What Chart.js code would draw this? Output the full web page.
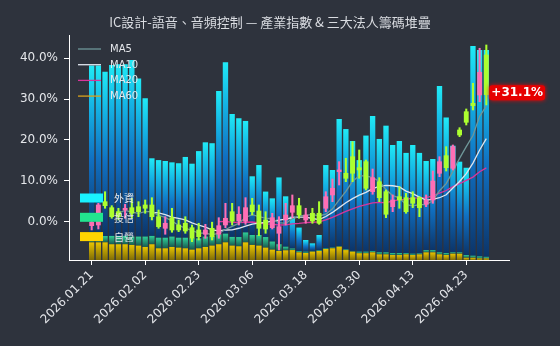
<!DOCTYPE html>
<html>
<head>
<meta charset="utf-8">
<script src="https://cdn.jsdelivr.net/npm/chart.js@4.4.1/dist/chart.umd.min.js"></script>
<style>
  html, body { margin: 0; padding: 0; background: #2e333d; }
  canvas { display: block; }
</style>
</head>
<body>
<canvas id="chart" width="560" height="346"></canvas>
<script>
// Trading days
const dates = [
  '2026.01.21','2026.01.22','2026.01.23','2026.01.26','2026.01.27','2026.01.28','2026.01.29','2026.01.30',
  '2026.02.02','2026.02.03','2026.02.04','2026.02.05','2026.02.06','2026.02.09','2026.02.10','2026.02.11',
  '2026.02.23','2026.02.24','2026.02.25','2026.02.26','2026.03.02','2026.03.03','2026.03.04','2026.03.05',
  '2026.03.06','2026.03.09','2026.03.10','2026.03.11','2026.03.12','2026.03.13','2026.03.16','2026.03.17',
  '2026.03.18','2026.03.19','2026.03.20','2026.03.23','2026.03.24','2026.03.25','2026.03.26','2026.03.27',
  '2026.03.30','2026.03.31','2026.04.01','2026.04.02','2026.04.07','2026.04.08','2026.04.09','2026.04.10',
  '2026.04.13','2026.04.14','2026.04.15','2026.04.16','2026.04.17','2026.04.20','2026.04.21','2026.04.22',
  '2026.04.23','2026.04.24','2026.04.27','2026.04.28'
];

// Industry index, cumulative % change (open / high / low / close)
const openPct = [-0.98,-0.81,4.90,3.43,2.45,2.86,3.43,3.67,4.09,4.09,1.22,-1.62,0.98,-0.81,-0.39,-1.47,-2.03,-3.08,-1.62,-3.08,
  -0.81,2.45,0.17,0.00,4.09,2.62,0.42,-1.47,-2.84,0.42,2.30,3.92,0.42,2.06,2.06,3.28,6.54,12.24,11.85,15.91,
  13.22,14.69,7.34,9.79,7.34,3.67,6.12,5.88,5.88,5.88,4.26,5.31,11.85,16.16,13.07,22.45,26.93,28.98,31.02,40.81];
const highPct = [1.64,4.50,7.34,3.92,3.28,4.26,5.73,4.90,5.31,5.88,2.86,1.22,3.28,0.42,1.22,-0.81,-0.39,-0.64,0.00,0.98,
  4.50,4.50,3.67,5.88,5.73,4.09,2.45,2.06,1.22,4.50,6.54,5.73,3.28,3.28,4.90,7.34,10.45,14.69,15.52,19.58,
  17.55,15.10,12.90,10.77,7.76,6.54,8.57,6.95,7.34,6.12,6.54,12.41,15.91,18.36,18.78,23.01,27.59,33.88,42.45,43.26];
const lowPct = [-2.03,-1.79,3.28,0.83,0.42,0.83,0.83,1.22,2.06,0.42,-1.62,-3.08,-2.59,-2.45,-2.84,-4.90,-4.48,-4.06,-4.48,-4.06,
  -1.47,-0.81,-0.81,-0.64,1.64,-3.43,-2.84,-1.79,-6.93,-0.81,0.98,0.83,-0.39,-0.39,-0.64,2.45,4.90,8.98,9.79,9.79,
  10.62,7.76,6.71,4.90,0.98,2.45,3.28,2.06,3.43,1.22,3.67,4.50,11.02,12.41,12.66,20.81,23.67,27.34,29.38,28.57];
const closePct = [0.00,4.09,3.92,1.22,1.22,3.28,2.06,2.45,3.28,1.22,-1.22,-0.39,-2.03,-2.03,-2.28,-4.06,-3.67,-2.03,-3.67,-0.98,
  0.83,0.00,1.81,3.43,2.45,-1.62,-1.79,0.98,-1.22,1.64,3.92,1.64,1.64,0.17,-0.39,6.12,8.18,12.66,10.62,11.85,
  12.66,8.18,10.77,5.88,1.81,5.31,5.31,2.45,4.50,3.43,5.31,9.96,14.69,13.22,18.36,21.22,24.33,28.40,36.57,31.10];

// Institutional holdings, stacked (bottom to top: dealers, trusts, foreign)
const dealerHold = [7.85,7.85,7.85,7.0,7.0,7.0,6.7,6.4,5.8,7.0,5.2,5.2,5.8,5.5,5.2,4.6,5.2,5.8,6.4,7.0,
  7.85,6.4,6.1,7.85,6.7,6.4,5.5,4.6,4.0,4.3,4.4,3.4,3.1,3.7,4.0,4.9,5.2,5.9,4.4,3.7,
  3.0,3.0,3.4,2.5,2.5,2.2,2.2,2.5,2.2,2.5,3.4,3.4,2.5,2.2,2.8,2.8,1.0,1.0,0.7,0.7];
const trustHold = [2.8,2.8,2.8,3.7,3.7,3.7,3.7,4.0,4.6,3.7,4.7,4.7,4.6,4.4,4.7,5.0,4.4,4.6,4.0,4.4,
  3.85,3.85,4.1,4.4,4.4,4.7,4.7,3.6,3.0,1.6,0.7,0.6,0.6,0.3,0.4,0.3,0.3,0.3,0.3,0.3,
  0.7,0.7,0.6,0.9,0.9,0.9,0.9,0.6,0.6,0.4,1.0,1.0,0.9,0.9,0.6,0.6,1.2,0.9,0.9,0.7];
const foreignHold = [75.75,75.75,73.05,76.0,76.3,76.3,78.5,70.3,61.5,34.5,34.5,34.1,33.0,33.1,35.9,33.2,38.8,41.9,41.5,63.7,
  76.2,54.65,52.8,49.55,26.1,31.1,20.2,19.2,29.7,22.4,14.2,10.4,5.2,3.4,6.7,37.0,34.5,56.5,53.5,48.9,
  40.7,51.6,60.0,50.4,56.3,48.0,49.8,44.5,48.3,44.7,39.6,40.5,73.9,60.2,47.4,40.3,38.8,93.2,91.7,91.9];

const pctTicks = [0, 10, 20, 30, 40];
const dateTickIndex = [0, 8, 16, 24, 32, 40, 48, 56];
const maPeriods = [5, 10, 20, 60];
const maColors = ['#6f9799', '#dfe5ee', '#d8359c', '#d9a21c'];
const instLabels = ['外資', '投信', '自營'];

const UP = '#ff6eb4', DOWN = '#adff2f';
const BG = '#2e333d';
const TXT = '#e4e6ea';

function movingAverage(values, n) {
  const out = [];
  for (let i = n - 1; i < values.length; i++) {
    let s = 0;
    for (let k = i - n + 1; k <= i; k++) s += values[k];
    out.push({ x: i, y: s / n });
  }
  return out;
}

function stackGradient(stops, lower, own) {
  return (ctx) => {
    const chart = ctx.chart;
    const sc = chart.scales && chart.scales.yInst;
    if (ctx.type !== 'data' || !chart.chartArea || !sc) return stops[0][1];
    const i = ctx.dataIndex;
    const base = lower.reduce((s, a) => s + a[i], 0);
    const yb = sc.getPixelForValue(base);
    const yt = sc.getPixelForValue(base + own[i]);
    if (!isFinite(yb) || !isFinite(yt) || Math.abs(yb - yt) < 0.5) return stops[0][1];
    const g = chart.ctx.createLinearGradient(0, yt, 0, yb);
    stops.forEach(([o, c]) => g.addColorStop(o, c));
    return g;
  };
}

const xy = (arr) => arr.map((v, i) => ({ x: i, y: v }));
const candleColor = (ctx) => {
  const i = ctx.dataIndex;
  return closePct[i] >= openPct[i] ? UP : DOWN;
};

const datasets = [
  {
    type: 'bar', label: instLabels[2], yAxisID: 'yInst', stack: 'inst', order: 4, grouped: false,
    data: xy(dealerHold), barPercentage: 0.8, categoryPercentage: 1,
    backgroundColor: stackGradient([[0, '#e9c500'], [1, '#7f6c06']], [], dealerHold)
  },
  {
    type: 'bar', label: instLabels[1], yAxisID: 'yInst', stack: 'inst', order: 4, grouped: false,
    data: xy(trustHold), barPercentage: 0.8, categoryPercentage: 1,
    backgroundColor: stackGradient([[0, '#2fcf98'], [1, '#175a50']], [dealerHold], trustHold)
  },
  {
    type: 'bar', label: instLabels[0], yAxisID: 'yInst', stack: 'inst', order: 4, grouped: false,
    data: xy(foreignHold), barPercentage: 0.8, categoryPercentage: 1,
    backgroundColor: stackGradient([[0, '#20eaf6'], [0.25, '#14b2e4'], [0.55, '#1070c2'], [1, '#0c3468']],
      [dealerHold, trustHold], foreignHold)
  }
];

maPeriods.forEach((n, k) => {
  datasets.push({
    type: 'line', label: 'MA' + n, yAxisID: 'y', order: 3,
    data: movingAverage(closePct, n),
    borderColor: maColors[k], borderWidth: 1.3, pointRadius: 0, tension: 0, fill: false
  });
});

datasets.push({
  type: 'bar', label: 'wick', yAxisID: 'y', order: 2, grouped: false,
  data: closePct.map((_, i) => ({ x: i, y: [lowPct[i], highPct[i]] })),
  barThickness: 1.4, backgroundColor: candleColor
});
datasets.push({
  type: 'bar', label: 'body', yAxisID: 'y', order: 1, grouped: false,
  data: closePct.map((_, i) => ({ x: i, y: [openPct[i], closePct[i]] })),
  barThickness: 4.2, minBarLength: 1, backgroundColor: candleColor
});

const decor = {
  id: 'decor',
  beforeDraw(chart) {
    const c = chart.ctx;
    c.save();
    c.fillStyle = BG;
    c.fillRect(0, 0, chart.width, chart.height);
    c.restore();
  },
  afterDraw(chart) {
    const c = chart.ctx;
    c.save();
    // title
    c.fillStyle = '#d9dce1';
    c.font = '13px "Noto Sans CJK TC", "DejaVu Sans", sans-serif';
    c.textAlign = 'center';
    c.textBaseline = 'middle';
    c.fillText('IC設計-語音、音頻控制 — 產業指數 & 三大法人籌碼堆疊', 270, 22.5);

    // moving-average legend
    c.textAlign = 'left';
    c.font = '10px "DejaVu Sans", sans-serif';
    maPeriods.forEach((n, k) => {
      const y = 49 + k * 15.7;
      c.strokeStyle = maColors[k];
      c.lineWidth = 1.3;
      c.beginPath();
      c.moveTo(78, y);
      c.lineTo(101, y);
      c.stroke();
      c.fillStyle = TXT;
      c.fillText('MA' + n, 110, y + 0.5);
    });

    // institutional legend
    const boxCols = ['#19f2ff', '#22e58f', '#ffd400'];
    c.font = '10px "Noto Sans CJK TC", sans-serif';
    instLabels.forEach((lab, k) => {
      const y = 198 + k * 19.3;
      c.fillStyle = boxCols[k];
      c.fillRect(80, y - 4.5, 23, 9);
      c.fillStyle = TXT;
      c.fillText(lab, 114, y + 0.5);
    });

    // last close tag
    const last = closePct.length - 1;
    const xs = chart.scales.x, ys = chart.scales.y;
    const px = xs.getPixelForValue(last) + 3;
    const py = ys.getPixelForValue(closePct[last]) - 2;
    const txt = (closePct[last] >= 0 ? '+' : '') + closePct[last].toFixed(1) + '%';
    c.font = 'bold 12px "DejaVu Sans", sans-serif';
    const w = c.measureText(txt).width + 4;
    c.shadowColor = 'rgba(255,0,0,0.9)';
    c.shadowBlur = 4;
    c.fillStyle = '#e60000';
    c.beginPath();
    c.roundRect(px, py - 7.5, w, 15, 3);
    c.fill();
    c.shadowBlur = 0;
    c.fillStyle = '#ffffff';
    c.textAlign = 'left';
    c.fillText(txt, px + 2, py + 0.5);
    c.restore();
  }
};

new Chart(document.getElementById('chart'), {
  data: { datasets },
  options: {
    responsive: false,
    devicePixelRatio: 1,
    animation: false,
    layout: { padding: { top: 35, right: 51, left: 0, bottom: 0 } },
    plugins: { legend: { display: false }, tooltip: { enabled: false }, title: { display: false } },
    scales: {
      x: {
        type: 'linear', min: -3.39, max: 62.39, offset: false,
        afterBuildTicks: (s) => { s.ticks = dateTickIndex.map(v => ({ value: v })); },
        afterFit: (s) => { s.height = 86; },
        ticks: {
          callback: (v) => dates[v], autoSkip: false, minRotation: 45, maxRotation: 45,
          color: TXT, font: { family: 'DejaVu Sans', size: 12 }, padding: 3
        },
        grid: { display: true, offset: false, drawOnChartArea: false, drawTicks: true, tickLength: 5, color: '#ffffff' },
        border: { display: true, color: '#ffffff', width: 1 }
      },
      y: {
        type: 'linear', position: 'left', min: -9.38, max: 45.7,
        afterBuildTicks: (s) => { s.ticks = pctTicks.map(v => ({ value: v })); },
        afterFit: (s) => { s.width = 69; },
        ticks: {
          callback: (v) => v.toFixed(1) + '%',
          color: TXT, font: { family: 'DejaVu Sans', size: 12 }, padding: 6
        },
        grid: { display: true, drawOnChartArea: false, drawTicks: true, tickLength: 5, color: '#ffffff' },
        border: { display: true, color: '#ffffff', width: 1 }
      },
      yInst: {
        type: 'linear', display: false, stacked: true, min: 0, max: 100
      }
    }
  },
  plugins: [decor]
});
</script>
</body>
</html>
